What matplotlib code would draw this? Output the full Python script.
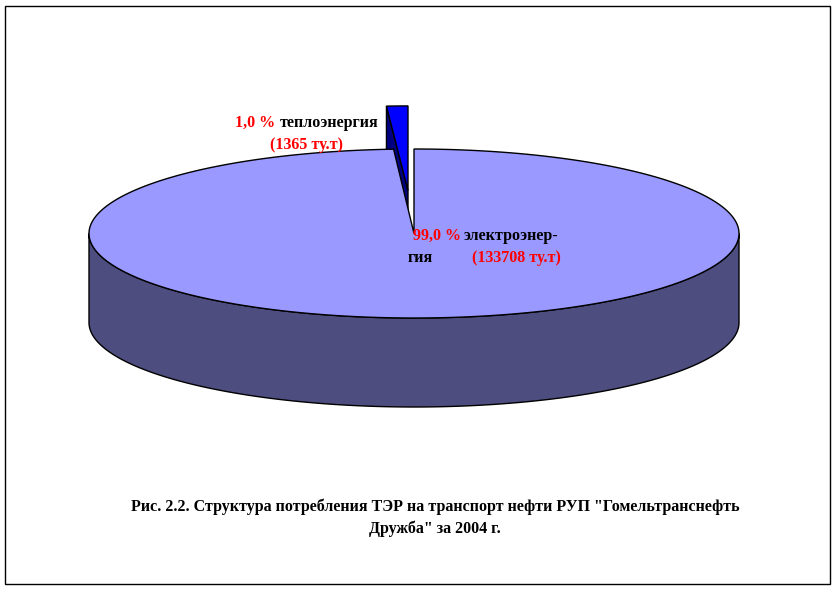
import numpy as np
import matplotlib
matplotlib.use("Agg")
import matplotlib.pyplot as plt
from matplotlib.patches import Polygon, Rectangle

# values
labels = ["электроэнергия", "теплоэнергия"]
shares = [99.0, 1.0]
amounts = [133708, 1365]
caption = ['Рис. 2.2. Структура потребления ТЭР на транспорт нефти РУП "Гомельтранснефть',
           'Дружба" за 2004 г.']

# pie geometry in pixels
cx, cy = 414, 233.5
rx, ry = 325, 84.5
depth = 89
explode = 0.51

plt.rcParams['font.family'] = ['Liberation Serif', 'DejaVu Serif']

fig = plt.figure(figsize=(8.37, 5.89), dpi=100)
ax = fig.add_axes([0, 0, 1, 1])
ax.set_xlim(0, 837)
ax.set_ylim(589, 0)
ax.axis("off")

ax.add_patch(Rectangle((5.5, 5.5), 825, 578, fc="white", ec="black", lw=1))

def rim(a0, a1, x0=cx, y0=cy):
    # angles clockwise from 12 o'clock, in degrees
    t = np.radians(np.linspace(a0, a1, 400))
    return np.column_stack([x0 + rx * np.sin(t), y0 - ry * np.cos(t)])

main_end = shares[0] / sum(shares) * 360
mid = np.radians((main_end + 360) / 2)
ex = cx + explode * rx * np.sin(mid) - 0.8
ey = cy - explode * ry * np.cos(mid)

# small exploded slice, sits behind the big one
small = rim(main_end - 0.2, 360, ex, ey)
ax.add_patch(Polygon([small[0], (ex, ey), (ex, ey + depth), small[0] + (0, depth)],
                     fc="#000080", ec="black", lw=1))
ax.add_patch(Polygon(np.vstack([[(ex, ey)], small]), fc="#0000FF", ec="black", lw=1))

# big slice, side wall then top
front = rim(90, 270)
ax.add_patch(Polygon(np.vstack([front, front[::-1] + (0, depth)]),
                     fc="#4D4D80", ec="black", lw=1))
ax.add_patch(Polygon(np.vstack([[(cx, cy)], rim(0, main_end)]),
                     fc="#9999FF", ec="black", lw=1))

font = dict(fontsize=11.5, fontweight="bold", va="center")
red = "#FF0000"
ax.text(235, 123, f"{shares[1]:.1f} %".replace(".", ","), color=red, **font)
ax.text(280, 123, labels[1], color="black", **font)
ax.text(270, 145, f"({amounts[1]} ту.т)", color=red, **font)
ax.text(413, 236, f"{shares[0]:.1f} %".replace(".", ","), color=red, **font)
ax.text(464, 236, labels[0][:11] + "-", color="black", **font)
ax.text(408, 258, labels[0][11:], color="black", **font)
ax.text(472, 258, f"({amounts[0]} ту.т)", color=red, **font)

ax.text(435, 507, caption[0], ha="center", va="center", fontsize=11.5, fontweight="bold")
ax.text(435, 529, caption[1], ha="center", va="center", fontsize=11.5, fontweight="bold")

fig.savefig("out.png", dpi=100)
